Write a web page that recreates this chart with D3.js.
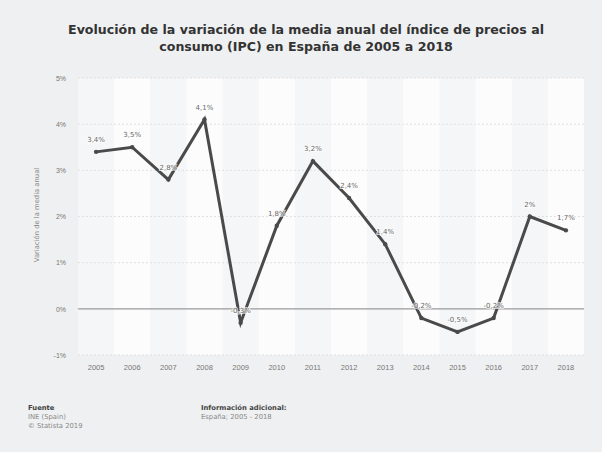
<!DOCTYPE html>
<html><head><meta charset="utf-8">
<script src="https://cdn.jsdelivr.net/npm/d3@7"></script>
<style>
html,body{margin:0;padding:0;background:#eff0f1;}
svg{display:block;font-family:"DejaVu Sans","Open Sans",sans-serif;}
</style></head>
<body>
<svg id="c" width="602" height="452"></svg>
<script>
const years = ["2005","2006","2007","2008","2009","2010","2011","2012","2013","2014","2015","2016","2017","2018"];
const values = [3.4,3.5,2.8,4.1,-0.3,1.8,3.2,2.4,1.4,-0.2,-0.5,-0.2,2,1.7];
const valueLabels = ["3,4%","3,5%","2,8%","4,1%","-0,3%","1,8%","3,2%","2,4%","1,4%","-0,2%","-0,5%","-0,2%","2%","1,7%"];
const yTicks = [-1,0,1,2,3,4,5];
const yTickLabels = ["-1%","0%","1%","2%","3%","4%","5%"];
const titleLines = ["Evolución de la variación de la media anual del índice de precios al","consumo (IPC) en España de 2005 a 2018"];

const svg = d3.select("#c");
const m = {l:78, r:584, t:78, b:355};
const x = d3.scaleBand().domain(years).range([m.l, m.r]).paddingInner(0).paddingOuter(0);
const y = d3.scaleLinear().domain([-1,5]).range([m.b, m.t]);

// title
svg.append("g").selectAll("text").data(titleLines).join("text")
  .attr("x", 306).attr("y",(d,i)=>34+i*17).attr("text-anchor","middle")
  .attr("font-size",12.6).attr("font-weight","bold").attr("fill","#333").text(d=>d);

// plot bg
svg.append("rect").attr("x",m.l).attr("y",m.t).attr("width",m.r-m.l).attr("height",m.b-m.t).attr("fill","#f5f6f7");
svg.append("g").selectAll("rect").data(years.filter((d,i)=>i%2===1)).join("rect")
  .attr("x",d=>x(d)).attr("y",m.t).attr("width",x.bandwidth()).attr("height",m.b-m.t).attr("fill","#fcfcfc");

// grid
svg.append("g").selectAll("line").data(yTicks.filter(d=>d!==0)).join("line")
  .attr("x1",m.l).attr("x2",m.r).attr("y1",d=>y(d)).attr("y2",d=>y(d))
  .attr("stroke","#e0e0e0").attr("stroke-width",1).attr("stroke-dasharray","2,2");
svg.append("line").attr("x1",m.l).attr("x2",m.r).attr("y1",y(0)).attr("y2",y(0))
  .attr("stroke","#9a9a9a").attr("stroke-width",1.3);

// y axis
const ya = d3.axisLeft(y).tickValues(yTicks).tickFormat((d,i)=>yTickLabels[i]).tickSize(0).tickPadding(0);
const yg = svg.append("g").attr("transform",`translate(${m.l-12},0)`).call(ya);
yg.select(".domain").remove();
yg.selectAll("text").attr("font-size",7).attr("fill","#777");

// x axis
const xa = d3.axisBottom(x).tickSize(0).tickPadding(0);
const xg = svg.append("g").attr("transform",`translate(0,${m.b+10})`).call(xa);
xg.select(".domain").remove();
xg.selectAll("text").attr("font-size",7.5).attr("fill","#777");

// y title
svg.append("text").attr("transform","translate(39,215) rotate(-90)").attr("text-anchor","middle")
  .attr("font-size",6.8).attr("fill","#888").text("Variación de la media anual");

// line
const cx = d => x(d)+x.bandwidth()/2;
const line = d3.line().x((d,i)=>cx(years[i])).y(d=>y(d));
svg.append("path").datum(values).attr("d",line).attr("fill","none")
  .attr("stroke","#4a4a4a").attr("stroke-width",3).attr("stroke-linejoin","miter");
svg.append("g").selectAll("circle").data(values).join("circle")
  .attr("cx",(d,i)=>cx(years[i])).attr("cy",d=>y(d)).attr("r",2.2).attr("fill","#4a4a4a");

// labels
svg.append("g").selectAll("text").data(values).join("text")
  .attr("x",(d,i)=>cx(years[i])).attr("y",d=>y(d)-10).attr("text-anchor","middle")
  .attr("font-size",7).attr("fill","#666")
  .attr("stroke","#ffffff").attr("stroke-width",2).attr("stroke-opacity",0.7).attr("paint-order","stroke")
  .text((d,i)=>valueLabels[i]);

// footer
const foot = svg.append("g").attr("font-size",6.8);
foot.append("text").attr("x",28).attr("y",410).attr("font-weight","bold").attr("fill","#444").text("Fuente");
foot.append("text").attr("x",28).attr("y",419).attr("fill","#888").text("INE (Spain)");
foot.append("text").attr("x",28).attr("y",428).attr("fill","#888").text("© Statista 2019");
foot.append("text").attr("x",201).attr("y",410).attr("font-weight","bold").attr("fill","#444").text("Información adicional:");
foot.append("text").attr("x",201).attr("y",419).attr("fill","#888").text("España; 2005 - 2018");
</script>
</body></html>
